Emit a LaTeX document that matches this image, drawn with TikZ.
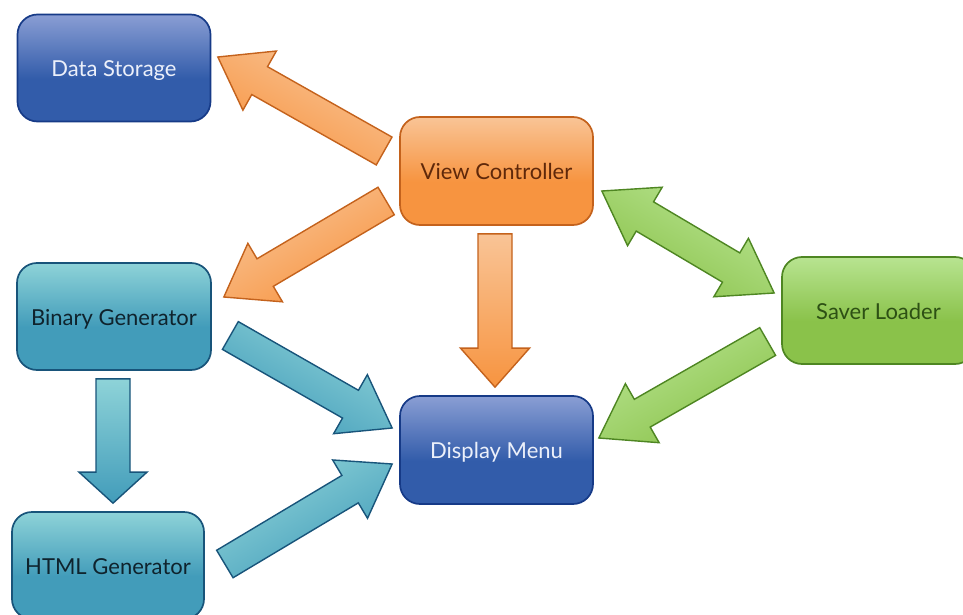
\documentclass[tikz,border=0pt]{standalone}
\usepackage{fontspec}
\setmainfont{Lato}
\usetikzlibrary{calc}
\definecolor{blueT}{RGB}{138,158,212}
\definecolor{blueD}{RGB}{50,92,170}
\definecolor{blueB}{RGB}{22,58,135}
\definecolor{blueTx}{RGB}{236,240,250}
\definecolor{orT}{RGB}{249,196,150}
\definecolor{orD}{RGB}{247,148,64}
\definecolor{orB}{RGB}{196,98,28}
\definecolor{orTx}{RGB}{95,40,10}
\definecolor{grT}{RGB}{184,228,145}
\definecolor{grD}{RGB}{138,194,74}
\definecolor{grB}{RGB}{78,134,34}
\definecolor{grTx}{RGB}{45,80,20}
\definecolor{tlT}{RGB}{142,211,216}
\definecolor{tlD}{RGB}{66,156,186}
\definecolor{tlB}{RGB}{24,84,122}
\definecolor{tlTx}{RGB}{15,35,45}
\pgfdeclareverticalshading{blueshade}{100bp}{color(0bp)=(blueD); color(45bp)=(blueD); color(75bp)=(blueT); color(100bp)=(blueT)}
\pgfdeclareverticalshading{orshade}{100bp}{color(0bp)=(orD); color(45bp)=(orD); color(75bp)=(orT); color(100bp)=(orT)}
\pgfdeclareverticalshading{grshade}{100bp}{color(0bp)=(grD); color(45bp)=(grD); color(75bp)=(grT); color(100bp)=(grT)}
\pgfdeclareverticalshading{tlshade}{100bp}{color(0bp)=(tlD); color(45bp)=(tlD); color(75bp)=(tlT); color(100bp)=(tlT)}
\tikzset{
  box/.style={rectangle, rounded corners=20pt, minimum width=193pt, minimum height=107pt,
    line width=1.7pt, inner sep=0pt, font=\fontsize{22}{26}\selectfont,
    text height=17.8pt, text depth=0pt},
  bluebox/.style={box, draw=blueB, shading=blueshade, text=blueTx},
  orbox/.style={box, draw=orB, shading=orshade, text=orTx},
  grbox/.style={box, draw=grB, shading=grshade, text=grTx},
  tlbox/.style={box, draw=tlB, shading=tlshade, text=tlTx},
  orarrow/.style={draw=orB, line width=1.4pt, top color=orT, bottom color=orD, line join=miter, shading angle=#1},
  grarrow/.style={draw=grB, line width=1.4pt, top color=grT, bottom color=grD, line join=miter, shading angle=#1},
  tlarrow/.style={draw=tlB, line width=1.4pt, top color=tlT, bottom color=tlD, line join=miter, shading angle=#1},
  orarrow/.default=0, grarrow/.default=0, tlarrow/.default=0,
}
% #1 style, #2 start, #3 end, #4 shaft half width, #5 head half width, #6 head length
\newcommand{\blockarrow}[6]{%
  \coordinate (ba-s) at (#2);
  \coordinate (ba-e) at (#3);
  \coordinate (ba-h) at ($(ba-e)!#6!(ba-s)$);
  \path[#1] ($(ba-s)!#4!90:(ba-e)$) -- ($(ba-h)!#4!90:(ba-e)$) -- ($(ba-h)!#5!90:(ba-e)$)
    -- (ba-e) -- ($(ba-h)!#5!-90:(ba-e)$) -- ($(ba-h)!#4!-90:(ba-e)$)
    -- ($(ba-s)!#4!-90:(ba-e)$) -- cycle;
}
% double-headed
\newcommand{\dblockarrow}[6]{%
  \coordinate (ba-s) at (#2);
  \coordinate (ba-e) at (#3);
  \coordinate (ba-h) at ($(ba-e)!#6!(ba-s)$);
  \coordinate (ba-g) at ($(ba-s)!#6!(ba-e)$);
  \path[#1] (ba-s) -- ($(ba-g)!#5!90:(ba-e)$) -- ($(ba-g)!#4!90:(ba-e)$)
    -- ($(ba-h)!#4!90:(ba-e)$) -- ($(ba-h)!#5!90:(ba-e)$)
    -- (ba-e) -- ($(ba-h)!#5!-90:(ba-e)$) -- ($(ba-h)!#4!-90:(ba-e)$)
    -- ($(ba-g)!#4!-90:(ba-e)$) -- ($(ba-g)!#5!-90:(ba-e)$) -- cycle;
}
\begin{document}
\begin{tikzpicture}[x=1pt, y=-1pt]
\clip (0,0) rectangle (963,615);
\fill[white] (0,0) rectangle (963,615);
\node[bluebox] (ds) at (114,68) {Data Storage};
\node[orbox, minimum height=108pt] (vc) at (496.5,171) {View Controller};
\node[grbox] (sl) at (878.5,310.5) {Saver Loader};
\node[tlbox, minimum width=194pt] (bg) at (114,316.5) {Binary Generator};
\node[tlbox, minimum width=192pt] (hg) at (108,565.5) {HTML Generator};
\node[bluebox, minimum height=108pt] (dm) at (496.5,450) {Display Menu};

\blockarrow{orarrow=-29.2}{$(vc.west)+(-15,-20)$}{$(ds.east)+(6.5,-11)$}{16pt}{34pt}{48pt}
\blockarrow{orarrow=30.3}{$(vc.west)+(-13,30)$}{$(bg.east)+(12,-19.5)$}{16pt}{34pt}{48pt}
\blockarrow{orarrow}{$(vc.south)+(-1.5,8)$}{$(dm.north)+(-1.5,-8)$}{17pt}{34.5pt}{39pt}
\dblockarrow{grarrow=-30.4}{$(vc.east)+(8,20)$}{$(sl.west)+(-7,-17.5)$}{17pt}{34pt}{50pt}
\blockarrow{grarrow=29.5}{$(sl.west)+(-13.5,31)$}{$(dm.east)+(5,-12)$}{16pt}{34pt}{50pt}
\blockarrow{tlarrow=-29.5}{$(bg.east)+(18.5,19)$}{$(dm.west)+(-7,-22)$}{16pt}{34pt}{48pt}
\blockarrow{tlarrow=30.6}{$(hg.east)+(20,-1.5)$}{$(dm.west)+(-7,14)$}{16pt}{34pt}{49pt}
\blockarrow{tlarrow}{$(bg.south)+(-1,8)$}{$(hg.north)+(5,-8)$}{17pt}{34pt}{31pt}
\end{tikzpicture}
\end{document}
